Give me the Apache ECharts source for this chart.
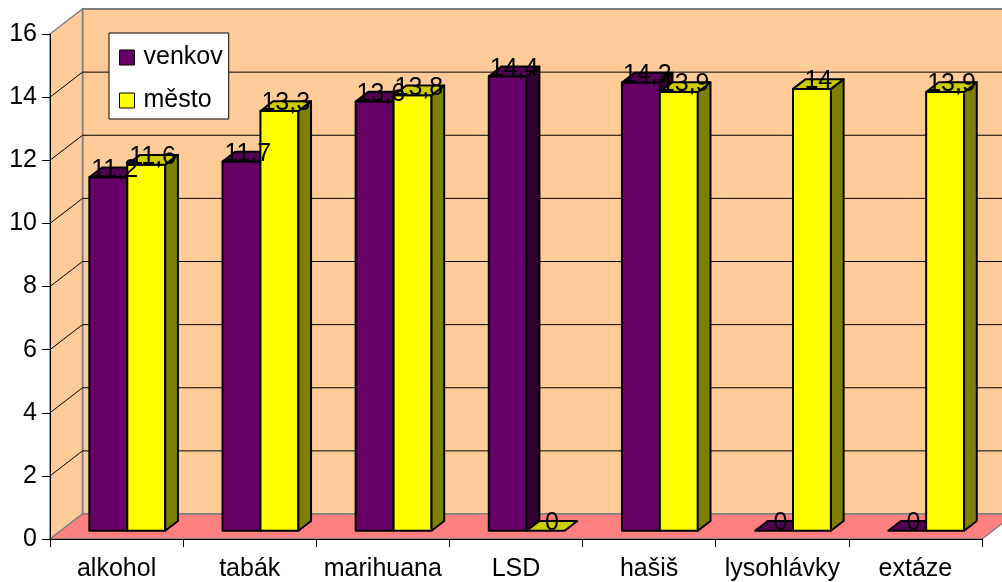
<!DOCTYPE html>
<html>
<head>
<meta charset="utf-8">
<script src="https://cdn.jsdelivr.net/npm/echarts@6/dist/echarts.min.js"></script>
<style>
  html, body { margin: 0; padding: 0; background: #ffffff; }
  #chart { width: 1002px; height: 582px; }
</style>
</head>
<body>
<div id="chart"></div>
<script>
// Age of first use by substance, rural vs. urban respondents
const categories = ['alkohol', 'tabák', 'marihuana', 'LSD', 'hašiš', 'lysohlávky', 'extáze'];
const venkov = [11.2, 11.7, 13.6, 14.4, 14.2, 0, 0];
const mesto = [11.6, 13.3, 13.8, 0, 13.9, 14, 13.9];
const yTicks = [0, 2, 4, 6, 8, 10, 12, 14, 16];
const seriesNames = ['venkov', 'město'];

// Oblique projection of the "depth" axis (full depth of the box)
const DEPTH_X = 32.5;
const DEPTH_Y = -25;
const BAR_FRONT = 0.33;   // where the bars start, as share of full depth
const BAR_DEPTH = 0.39;   // how deep a bar is, as share of full depth
const BAR_WIDTH = 0.285;  // bar width as share of a category band

const FONT = '"Liberation Sans", Arial, sans-serif';

const palette = [
  { front: '#660066', top: '#520052', side: '#330033' },
  { front: '#FFFF00', top: '#CCCC00', side: '#808000' }
];

function toPairs(values) {
  return values.map(function (v, i) { return [i, v]; });
}

// Back wall, left wall, floor and their gridlines
function renderWalls(params, api) {
  const cs = params.coordSys;
  const x0 = cs.x, x1 = cs.x + cs.width;
  const yTop = cs.y, yBot = cs.y + cs.height;
  const children = [
    {
      type: 'rect',
      shape: { x: x0 + DEPTH_X, y: yTop + DEPTH_Y, width: x1 - x0, height: yBot - yTop },
      style: { fill: '#FFCC99', stroke: '#808080', lineWidth: 2 }
    },
    {
      type: 'polygon',
      shape: { points: [[x0, yBot], [x0 + DEPTH_X, yBot + DEPTH_Y], [x0 + DEPTH_X, yTop + DEPTH_Y], [x0, yTop]] },
      style: { fill: '#FFCC99', stroke: '#808080', lineWidth: 1.5 }
    },
    {
      type: 'polygon',
      shape: { points: [[x0, yBot], [x1, yBot], [x1 + DEPTH_X, yBot + DEPTH_Y], [x0 + DEPTH_X, yBot + DEPTH_Y]] },
      style: { fill: '#FF8080', stroke: '#808080', lineWidth: 1.5 }
    }
  ];
  yTicks.forEach(function (t) {
    if (t === yTicks[0] || t === yTicks[yTicks.length - 1]) return;
    const y = api.coord([0, t])[1];
    children.push({
      type: 'polyline',
      shape: { points: [[x0, y], [x0 + DEPTH_X, y + DEPTH_Y], [x1 + DEPTH_X, y + DEPTH_Y]] },
      style: { fill: null, stroke: '#000000', lineWidth: 1 }
    });
  });
  return { type: 'group', children: children };
}

function barGeometry(side, api) {
  const i = api.value(0);
  const v = api.value(1);
  const base = api.coord([i, 0]);
  const top = api.coord([i, v]);
  const band = api.size([1, 0])[0];
  const w = band * BAR_WIDTH;
  const fx = DEPTH_X * BAR_FRONT, fy = DEPTH_Y * BAR_FRONT;
  const left = base[0] + fx + (side === 0 ? -w : 0);
  return {
    v: v, left: left, w: w,
    yb: base[1] + fy, yt: top[1] + fy,
    bx: DEPTH_X * BAR_DEPTH, by: DEPTH_Y * BAR_DEPTH
  };
}

function makeBarRenderer(side) {
  const col = palette[side];
  return function (params, api) {
    const g = barGeometry(side, api);
    const edge = { stroke: '#000000', lineWidth: 2, lineJoin: 'round' };
    const children = [];
    if (g.yb - g.yt > 0.5) {
      children.push({
        type: 'rect',
        shape: { x: g.left, y: g.yt, width: g.w, height: g.yb - g.yt },
        style: Object.assign({ fill: col.front }, edge)
      });
      children.push({
        type: 'polygon',
        shape: { points: [[g.left + g.w, g.yt], [g.left + g.w + g.bx, g.yt + g.by],
                          [g.left + g.w + g.bx, g.yb + g.by], [g.left + g.w, g.yb]] },
        style: Object.assign({ fill: col.side }, edge)
      });
    }
    children.push({
      type: 'polygon',
      shape: { points: [[g.left, g.yt], [g.left + g.w, g.yt],
                        [g.left + g.w + g.bx, g.yt + g.by], [g.left + g.bx, g.yt + g.by]] },
      style: Object.assign({ fill: col.top }, edge)
    });
    return { type: 'group', children: children };
  };
}

function makeLabelRenderer(side) {
  return function (params, api) {
    const g = barGeometry(side, api);
    return {
      type: 'text',
      x: g.left + g.w / 2 + g.bx / 2,
      y: g.yt - 7.5,
      style: {
        text: String(g.v).replace('.', ','),
        fill: '#000000',
        fontSize: 25,
        fontFamily: FONT,
        align: 'center',
        verticalAlign: 'middle'
      }
    };
  };
}

const chart = echarts.init(document.getElementById('chart'), null, { renderer: 'canvas' });

const seriesData = [venkov, mesto];
const series = [
  {
    name: 'walls',
    type: 'custom',
    z: 1,
    silent: true,
    renderItem: renderWalls,
    data: [[0, 0]],
    encode: { x: 0, y: 1 }
  }
];
seriesData.forEach(function (vals, s) {
  series.push({
    name: seriesNames[s],
    type: 'custom',
    z: 2,
    itemStyle: { color: palette[s].front },
    renderItem: makeBarRenderer(s),
    data: toPairs(vals),
    encode: { x: 0, y: 1 }
  });
});
seriesData.forEach(function (vals, s) {
  series.push({
    name: seriesNames[s] + '-labels',
    type: 'custom',
    z: 3,
    silent: true,
    renderItem: makeLabelRenderer(s),
    data: toPairs(vals),
    encode: { x: 0, y: 1 }
  });
});

chart.setOption({
  animation: false,
  backgroundColor: '#ffffff',
  grid: { left: 50, right: 20, top: 34, bottom: 42, containLabel: false },
  legend: {
    data: seriesNames,
    orient: 'vertical',
    left: 109,
    top: 33,
    padding: [12, 6, 6, 10],
    itemGap: 18,
    itemWidth: 15,
    itemHeight: 15,
    icon: 'rect',
    itemStyle: { borderColor: '#000000', borderWidth: 1 },
    backgroundColor: '#ffffff',
    borderColor: '#000000',
    borderWidth: 1,
    z: 10,
    selectedMode: false,
    textStyle: { fontSize: 25, fontFamily: FONT, color: '#000000', lineHeight: 22, padding: [0, 0, 0, 4] }
  },
  xAxis: {
    type: 'category',
    data: categories,
    z: 4,
    axisLine: { lineStyle: { color: '#000000', width: 1 } },
    axisTick: { show: true, length: 8, lineStyle: { color: '#000000' } },
    axisLabel: { color: '#000000', fontSize: 25, fontFamily: FONT, margin: 18, lineHeight: 25, interval: 0 },
    splitLine: { show: false }
  },
  yAxis: {
    type: 'value',
    min: yTicks[0],
    max: yTicks[yTicks.length - 1],
    interval: yTicks[1] - yTicks[0],
    z: 4,
    axisLine: { show: true, lineStyle: { color: '#000000', width: 1 } },
    axisTick: { show: true, length: 8, lineStyle: { color: '#000000' } },
    axisLabel: { color: '#000000', fontSize: 25, fontFamily: FONT, margin: 13 },
    splitLine: { show: false }
  },
  series: series
});
</script>
</body>
</html>
